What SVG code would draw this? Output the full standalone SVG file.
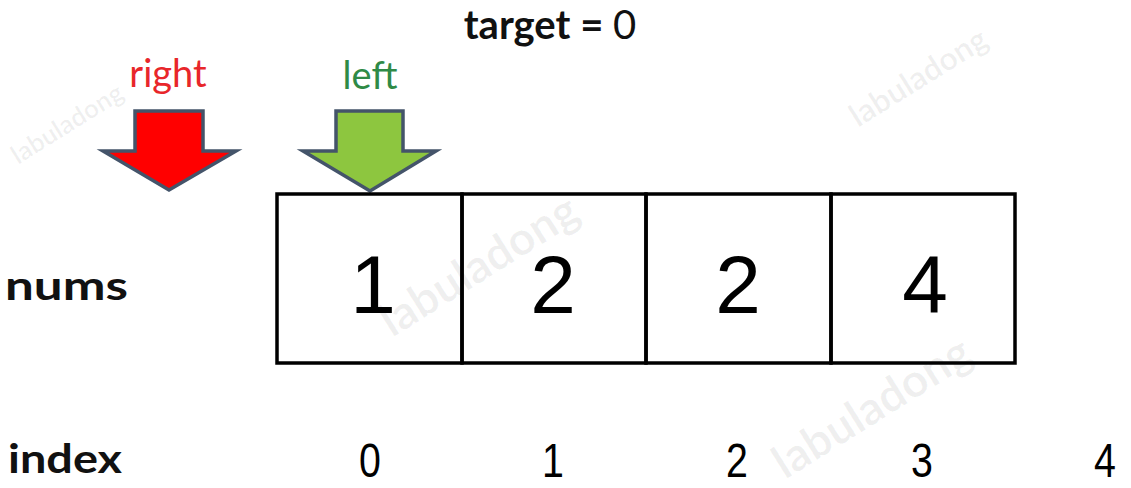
<svg xmlns="http://www.w3.org/2000/svg" width="1131" height="488" viewBox="0 0 1131 488">
<style>
.wm{font-family:Lato,"Liberation Sans",sans-serif;font-weight:bold;font-size:46px;fill:#000;fill-opacity:0.06}
.lbl{font-family:Lato,"Liberation Sans",sans-serif;font-weight:bold;font-size:40px;fill:#111}
.cell{fill:none;stroke:#000;stroke-width:3.5}
.val{font-family:"Liberation Sans",Arial,sans-serif;font-size:82px;fill:#000;text-anchor:middle}
.idx{font-family:"Liberation Sans",Arial,sans-serif;font-size:48px;fill:#000;text-anchor:middle}
.arr{stroke:#44546a;stroke-width:3.5;stroke-linejoin:miter}
.ptr{font-family:Lato,"Liberation Sans",sans-serif;font-size:38px;text-anchor:middle}
</style>
<rect width="1131" height="488" fill="#fff"/>
<g id="watermarks">
<text class="wm" style="font-size:26px" transform="translate(18,165) rotate(-32)">labuladong</text>
<text class="wm" style="font-size:32px" transform="translate(858,128) rotate(-32)">labuladong</text>
<text class="wm" transform="translate(392,338) rotate(-32)">labuladong</text>
<text class="wm" transform="translate(785,480) rotate(-32)">labuladong</text>
</g>
<g id="title"><text x="550" y="39" font-family="Lato,'Liberation Sans',sans-serif" font-size="40" text-anchor="middle" fill="#111"><tspan font-weight="bold">target = </tspan><tspan>0</tspan></text></g>
<g id="labels">
<text class="lbl" x="5" y="300" textLength="123" lengthAdjust="spacingAndGlyphs">nums</text>
<text class="lbl" x="8" y="473" textLength="114" lengthAdjust="spacingAndGlyphs">index</text>
</g>
<g id="right-pointer">
<text class="ptr" x="168" y="87" fill="#e8262a">right</text>
<polygon class="arr" fill="#ff0000" points="135,111 203,111 203,151 236,151 169,190 103,151 135,151"/>
</g>
<g id="left-pointer">
<text class="ptr" x="370" y="89" fill="#2f8a46">left</text>
<polygon class="arr" fill="#8dc63f" points="336,111 403,111 403,151 436,151 370,191 303,151 336,151"/>
</g>
<g id="array">
<g id="cell0"><rect class="cell" x="277" y="194" width="185" height="169"/><text class="val" x="373" y="313">1</text></g>
<g id="cell1"><rect class="cell" x="462" y="194" width="184" height="169"/><text class="val" x="553" y="313">2</text></g>
<g id="cell2"><rect class="cell" x="646" y="194" width="185" height="169"/><text class="val" x="738" y="313">2</text></g>
<g id="cell3"><rect class="cell" x="831" y="194" width="184" height="169"/><text class="val" x="925" y="313">4</text></g>
</g>
<g id="indices">
<text class="idx" transform="translate(370,477) scale(0.82,1)">0</text>
<text class="idx" transform="translate(553,477) scale(0.82,1)">1</text>
<text class="idx" transform="translate(737,477) scale(0.82,1)">2</text>
<text class="idx" transform="translate(922,477) scale(0.82,1)">3</text>
<text class="idx" transform="translate(1105,477) scale(0.82,1)">4</text>
</g>
<g id="connectors"></g>
</svg>
